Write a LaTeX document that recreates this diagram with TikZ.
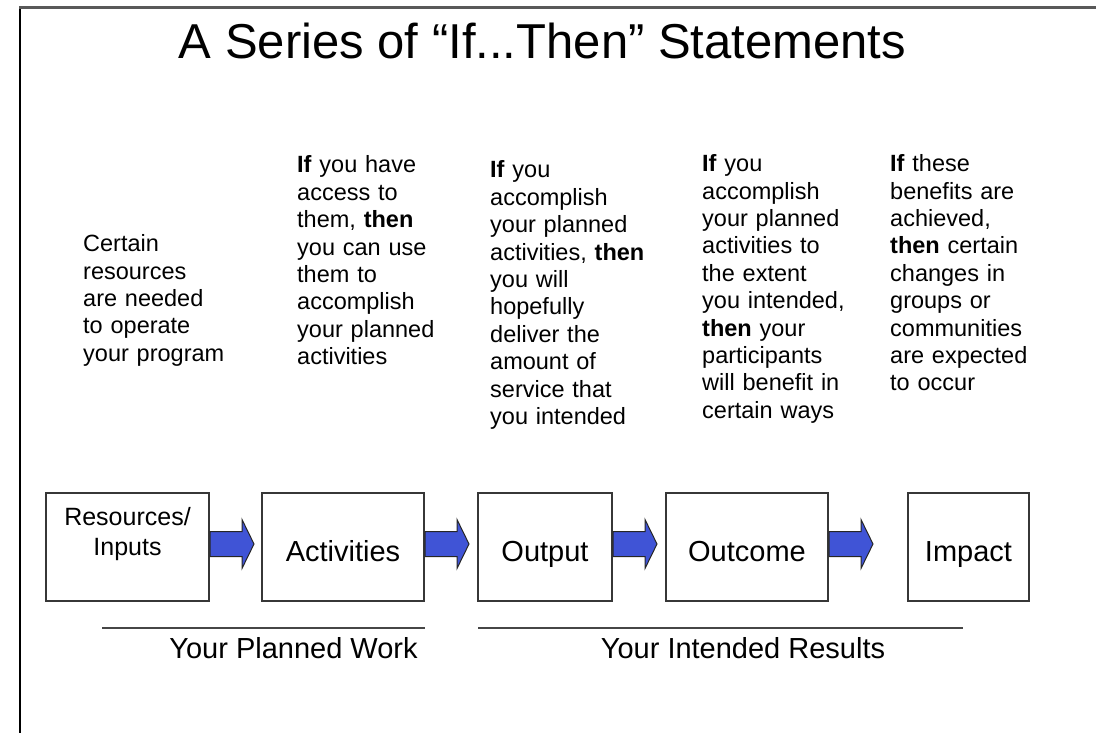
\documentclass[tikz,border=0pt]{standalone}
\usepackage{fontspec}
\setmainfont{Liberation Sans}
\usetikzlibrary{calc}
\definecolor{arrowblue}{RGB}{64,84,214}
\definecolor{boxgray}{RGB}{55,55,55}
\definecolor{rulegray}{RGB}{70,70,70}
\begin{document}
\begin{tikzpicture}[x=1pt,y=-1pt,
  stepbox/.style={draw=boxgray,line width=2pt,inner sep=0pt,minimum height=108pt},
  boxlabel/.style={font=\fontsize{29}{34}\selectfont,inner sep=0pt,anchor=base},
  desc/.style={font=\fontsize{23.5}{27.4}\selectfont,align=left,text width=220pt,inner sep=0pt,anchor=base west},
  flowarrow/.style={fill=arrowblue,draw=black!85,line width=1pt,line join=miter},
  rule/.style={draw=rulegray,line width=2pt}]
\useasboundingbox (0,0) rectangle (1096,733);
% frame
\draw[line width=2pt,black] (20,7) -- (20,733);
\draw[line width=3pt,gray!70!black] (19,8) -- (1096,8);
% title
\node[font=\fontsize{49}{58}\selectfont,inner sep=0pt,anchor=base] (title) at (542.5,59) {A Series of “If...Then” Statements};
% descriptions
\node[desc] (t1) at (83,251.7) {Certain\\resources\\are needed\\to operate\\your program};
\node[desc] (t2) at (297,173) {\textbf{If} you have\\access to\\them, \textbf{then}\\you can use\\them to\\accomplish\\your planned\\activities};
\node[desc] (t3) at (490,178) {\textbf{If} you\\accomplish\\your planned\\activities, \textbf{then}\\you will\\hopefully\\deliver the\\amount of\\service that\\you intended};
\node[desc] (t4) at (702,171.7) {\textbf{If} you\\accomplish\\your planned\\activities to\\the extent\\you intended,\\\textbf{then} your\\participants\\will benefit in\\certain ways};
\node[desc] (t5) at (890,171.7) {\textbf{If} these\\benefits are\\achieved,\\\textbf{then} certain\\changes in\\groups or\\communities\\are expected\\to occur};
% boxes
\node[stepbox,minimum width=163pt] (b1) at (127.5,547) {};
\node[stepbox,minimum width=162pt] (b2) at (343,547) {};
\node[stepbox,minimum width=134pt] (b3) at (545,547) {};
\node[stepbox,minimum width=162pt] (b4) at (747,547) {};
\node[stepbox,minimum width=121pt] (b5) at (968.5,547) {};
% box labels
\node[font=\fontsize{25}{30}\selectfont,inner sep=0pt,anchor=base,align=center,text width=160pt] (l1) at (127.5,525) {Resources/\\Inputs};
\node[boxlabel] (l2) at (343,561) {Activities};
\node[boxlabel] (l3) at (545,561) {Output};
\node[boxlabel] (l4) at (747,561) {Outcome};
\node[boxlabel] (l5) at (968.5,561) {Impact};
% arrows
\foreach \b in {b1,b2,b3,b4}{
  \begin{scope}[shift={(\b.east)}]
    \filldraw[flowarrow] (0,-15.5) -- (32,-15.5) -- (32,-27.5) -- (44,-3) -- (32,21.5) -- (32,9.5) -- (0,9.5) -- cycle;
  \end{scope}
}
% rules and group labels
\draw[rule] (102,628) -- (425,628);
\draw[rule] (478,628) -- (963,628);
\node[boxlabel] (g1) at (293.5,658) {Your Planned Work};
\node[boxlabel] (g2) at (743,658) {Your Intended Results};
\end{tikzpicture}
\end{document}
